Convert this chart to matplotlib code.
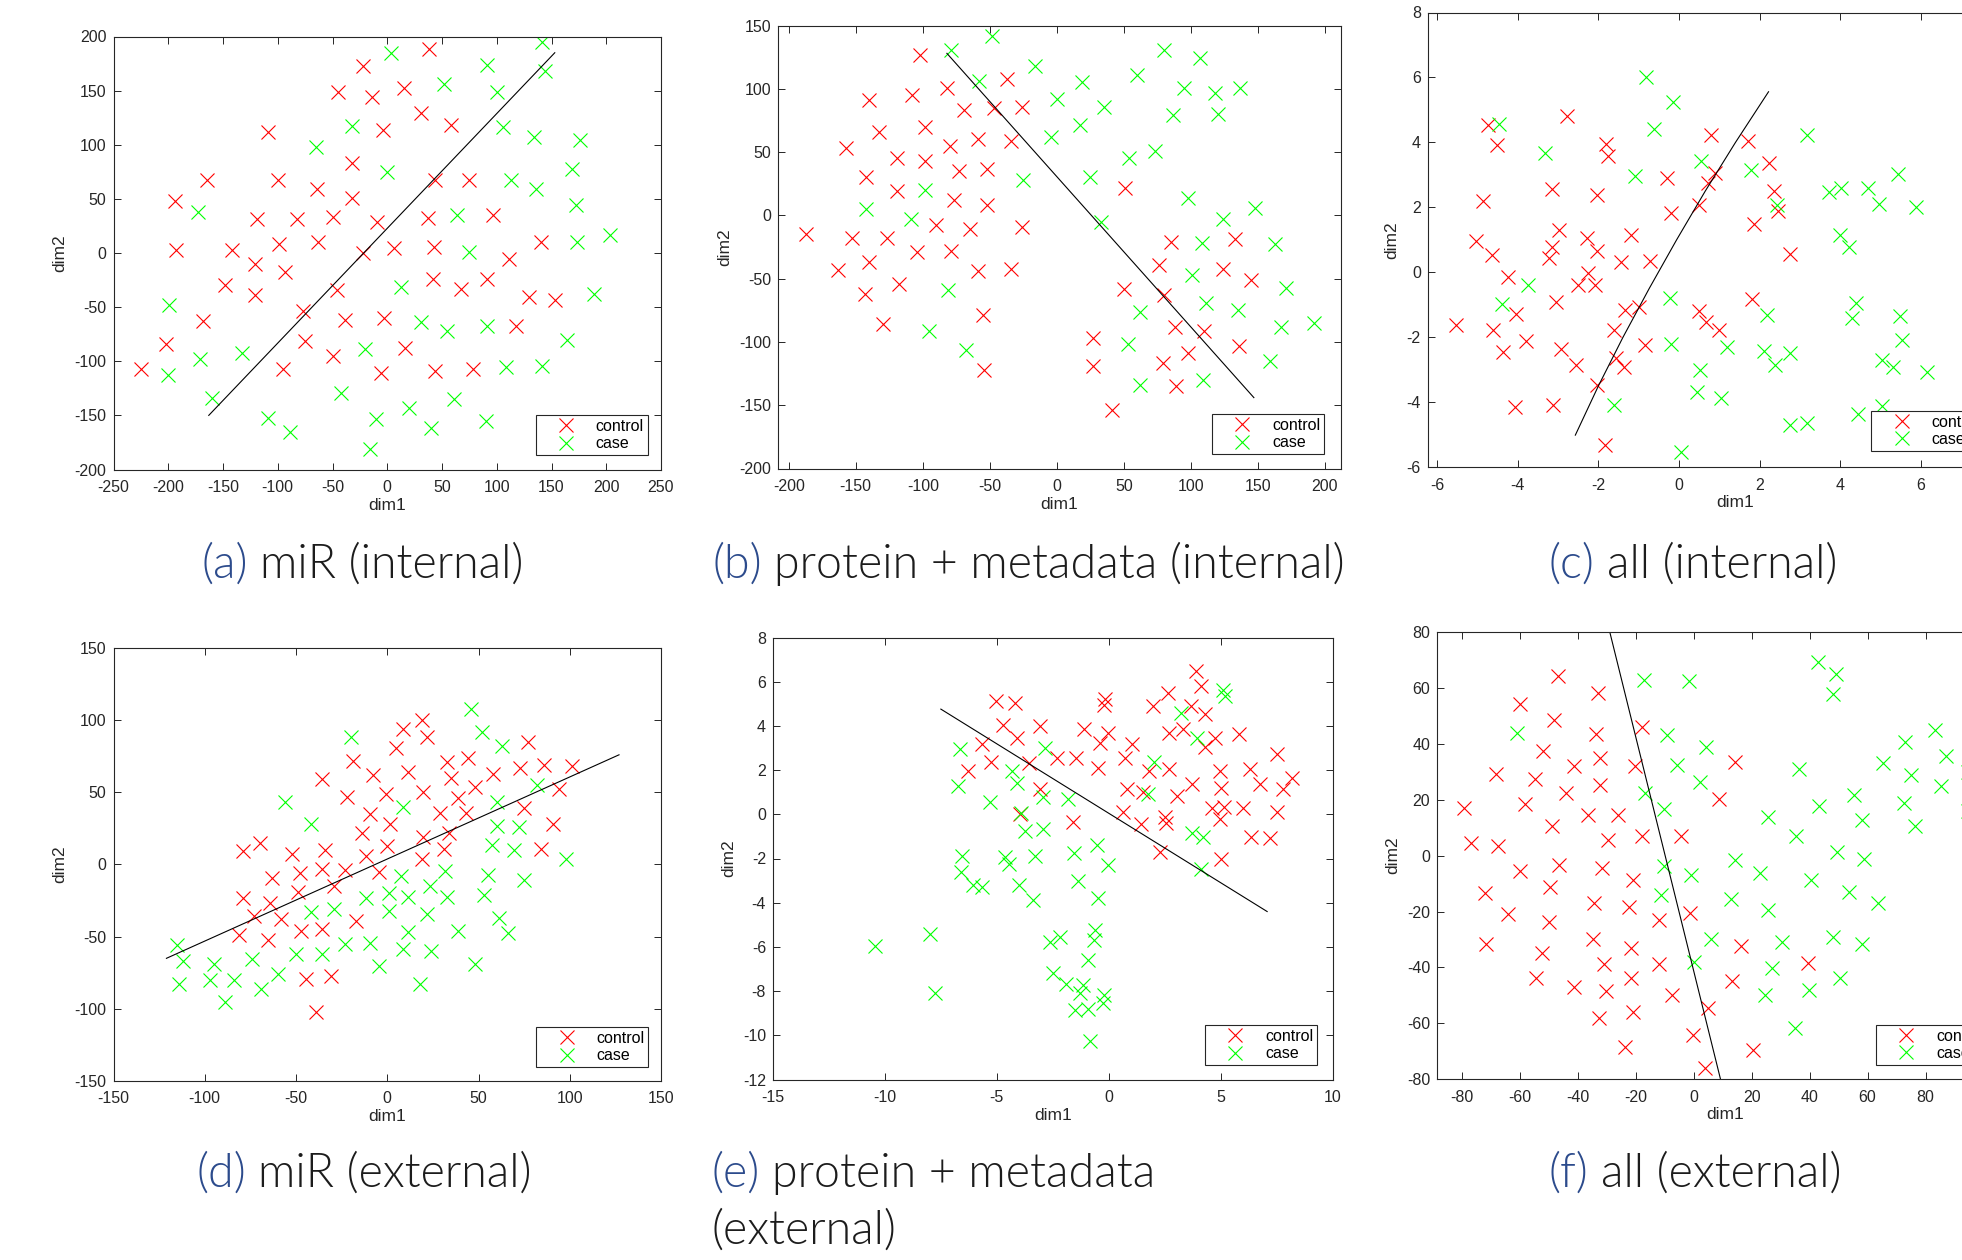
import matplotlib
matplotlib.use("Agg")
import matplotlib.pyplot as plt

# region data #
# (a) miR (internal)
a_ctrl_x = [-22, 38, -45, -14, 15, 31, 58, -4, -109, -32, -165, -100, -64, -32, -194, 44, 75, -119, -82, -50,
            -9, 37, 97, -193, -142, -99, -63, -22, 6, 43, 140, -121, -93, 111, -148, -121, -46, 42, 67, 91,
            129, 153, -168, -77, -39, -3, 118, -202, -75, -50, 16, -225, -95, -6, 44, 78]
a_ctrl_y = [173, 188, 149, 144, 152, 129, 118, 114, 112, 83, 67, 67, 59, 51, 48, 67, 67, 31, 31, 33,
            29, 32, 35, 3, 3, 8, 10, 0, 5, 6, 10, -10, -18, -6, -30, -39, -34, -24, -33, -24,
            -41, -43, -63, -54, -62, -60, -67, -84, -81, -95, -88, -107, -107, -111, -109, -107]
a_case_x = [141, 3, 91, 52, 100, 144, -32, 106, 134, 176, -65, 0, 113, 169, 136, -173, 172, 64, 203, 173,
            75, 13, 189, -199, 31, 55, 91, 164, -133, -20, -171, -200, 108, 141, -160, -42, 61, 20, -109, -10,
            90, -89, 40, -16]
a_case_y = [195, 185, 174, 156, 149, 168, 117, 116, 107, 104, 98, 75, 67, 78, 59, 38, 44, 35, 17, 10,
            1, -31, -38, -48, -64, -72, -67, -80, -92, -89, -98, -113, -105, -104, -134, -129, -135, -143, -152, -153,
            -155, -165, -162, -181]
a_line_x = [-163, 153]
a_line_y = [-150, 185]

# (b) protein + metadata (internal)
b_ctrl_x = [-102, -82, -37, -108, -140, -69, -47, -26, -98, -133, -59, -34, -80, -157, -119, -98, -73, -52, -142, -119,
            -77, -52, 51, -90, -65, -26, -187, -153, -127, -104, -79, -163, -140, -59, -34, -118, -143, -55, -130, -54,
            85, 133, 76, 124, 145, 50, 80, 88, 110, 27, 98, 136, 27, 79, 89, 41]
b_ctrl_y = [127, 101, 108, 95, 91, 83, 85, 86, 70, 66, 60, 59, 55, 53, 45, 43, 35, 37, 30, 19,
            12, 8, 22, -8, -11, -9, -15, -18, -18, -29, -28, -43, -37, -44, -42, -54, -62, -79, -86, -122,
            -21, -19, -39, -42, -51, -58, -63, -88, -91, -97, -109, -103, -119, -117, -135, -154]
b_case_x = [-48, -79, -16, -58, 19, 0, 35, 60, 80, 107, 95, 118, 137, 87, 120, 17, -4, 73, 54, -25,
            25, -98, 98, -142, 148, -109, 33, 124, 108, 163, 101, 171, -81, 62, 111, 135, 192, 167, -95, 53,
            -68, 159, 109, 62]
b_case_y = [142, 131, 118, 106, 105, 92, 86, 111, 131, 124, 101, 97, 101, 79, 80, 71, 62, 51, 45, 28,
            30, 20, 14, 5, 6, -3, -5, -3, -22, -23, -47, -57, -59, -76, -69, -75, -85, -88, -91, -102,
            -106, -115, -130, -134]
b_line_x = [-82, 147]
b_line_y = [128, -144]

# (c) all (internal)
c_ctrl_x = [-2.77, -4.74, -4.52, -1.81, -1.75, 0.80, 1.70, 2.22, -0.30, 0.89, 0.71, -3.15, -2.03, -4.87, 0.49, -0.20,
            2.36, 2.45, 1.87, 2.76, -5.03, -4.63, -2.97, -3.15, -3.22, -2.29, -2.03, -1.20, -1.43, -0.73, -2.25, -2.51,
            -2.09, -4.24, -3.04, -4.05, -5.53, -4.62, -3.79, -4.36, -2.92, -2.55, -1.34, -0.99, -1.62, -0.84, -1.57,
            -1.36, -2.04, -4.07, -3.13, -1.83, 0.49, 0.67, 1.00, 1.82]
c_ctrl_y = [4.81, 4.55, 3.93, 3.96, 3.57, 4.24, 4.03, 3.37, 2.92, 3.05, 2.75, 2.56, 2.38, 2.20, 2.08, 1.84,
            2.49, 1.89, 1.50, 0.58, 0.98, 0.53, 1.29, 0.77, 0.43, 1.06, 0.67, 1.14, 0.33, 0.36, -0.02, -0.38,
            -0.40, -0.14, -0.92, -1.29, -1.62, -1.78, -2.11, -2.45, -2.35, -2.86, -1.16, -1.07, -1.78, -2.24, -2.65,
            -2.91, -3.48, -4.15, -4.07, -5.32, -1.18, -1.52, -1.78, -0.83]
c_case_x = [-0.83, -0.16, -4.45, -0.62, -3.32, -1.08, 0.55, 1.78, 3.17, 2.42, 3.73, 4.01, 4.68, 5.43, 4.96, 5.87,
            3.99, 4.21, -3.74, -4.40, -0.22, 2.19, 4.40, 4.28, 5.47, 5.52, -0.19, 1.19, 2.10, 2.76, 2.39, 5.04,
            5.30, 6.15, 0.53, 0.44, 1.05, -1.60, 4.44, 2.76, 3.18, 0.04, 5.04]
c_case_y = [6.02, 5.25, 4.58, 4.40, 3.67, 2.98, 3.44, 3.15, 4.24, 2.08, 2.46, 2.61, 2.59, 3.03, 2.10, 2.01,
            1.15, 0.77, -0.38, -0.98, -0.80, -1.31, -0.95, -1.39, -1.33, -2.07, -2.21, -2.29, -2.42, -2.47, -2.86, -2.71,
            -2.91, -3.07, -3.02, -3.69, -3.86, -4.07, -4.36, -4.69, -4.64, -5.53, -4.10]
c_line_x = [-2.57, -2.0, -1.39, -0.74, -0.06, 0.65, 1.40, 2.22]
c_line_y = [-5.01, -3.5, -2.0, -0.5, 1.0, 2.5, 4.0, 5.56]

# (d) miR (external)
d_ctrl_x = [19, 8.5, 22, 5, 77, -19, 33, 44, 73, 86, 101.5, 11.6, 58, -36, -7.6, 35, 48, -0.7, 19.5, -22,
            39, 94, 75, -9.6, 29, 43, 1.3, 91, -14, 19.5, 34, -0.2, -70, -79, -52, -34, -11.6, 31, 84, 19,
            -36, -23, -48, -63, -4.7, -29, -49, -79, -64, -73, -58, -17, -81, -47, -35.5, -65.5, -44.5, -30.6, -39]
d_ctrl_y = [100, 94, 88, 81, 85, 72, 71, 74, 67, 69, 68, 64, 63, 59, 62, 60, 53.5, 49, 50.5, 47,
            46, 52, 39, 35, 36, 35.5, 28, 28, 22, 19, 22, 12.5, 15, 9.5, 7, 10, 6, 11, 11, 4,
            -3, -4, -6, -9.5, -5.5, -15, -19, -23, -27, -36, -38, -39, -49, -46, -44.5, -52, -79, -77, -102]
d_case_x = [46, 52, -20, 63, -56, 82, 60, 8.7, -42, 60, 72, 57.5, 69.5, 98, 7.8, 31.7, 55, 75, 23.5, 1.1,
            -11.4, 11.6, 33, 53, -29, -42, 1.1, 22, 61, 39, 11.6, 66, -23, -9.6, 8.7, 24, -50, -36, -74, -115,
            -112, -95, -4.7, 48, -60, -97, -84, -114, -69, 18, -89]
d_case_y = [108, 92, 88.5, 82, 43, 55, 43.6, 39.7, 28, 26.7, 25.8, 13.6, 9.7, 3.7, -7.8, -4.8, -7.1, -10.6, -15.2, -19.8,
            -23.5, -22.8, -22.6, -21.4, -30.7, -33, -32.5, -34, -37, -46, -47, -47.5, -55, -54.4, -58.6, -60.2, -61.8, -62, -65.3, -55.6,
            -67, -69, -70, -69, -76, -80, -80, -83, -86, -83, -95.5]
d_line_x = [-121, 127]
d_line_y = [-65, 76]

# (e) protein + metadata (external)
e_ctrl_x = [3.90, 4.12, 2.64, -5.03, -4.19, -0.17, -0.22, 1.96, 3.66, 4.32, -4.73, -3.05, -1.09, 3.31, 2.70, -0.02,
            4.77, 5.84, -4.08, -0.37, -5.65, 1.05, 4.29, -3.58, -5.27, -2.29, -1.46, 0.74, -0.48, 1.79, 2.68, -6.30,
            4.99, 6.32, 7.50, 3.70, 6.74, 8.19, -3.07, 0.83, 1.52, 5.04, 7.78, 3.03, 4.60, 5.14, 5.99, -3.95,
            0.63, 7.50, 2.51, 2.57, 4.97, -1.59, 1.44, 6.34, 7.22, 2.29, 5.04]
e_ctrl_y = [6.49, 5.80, 5.51, 5.14, 5.05, 5.21, 4.94, 4.91, 4.91, 4.56, 4.04, 3.99, 3.86, 3.86, 3.66, 3.66,
            3.43, 3.63, 3.43, 3.24, 3.18, 3.16, 3.06, 2.33, 2.38, 2.56, 2.56, 2.56, 2.08, 1.96, 2.05, 1.96,
            1.97, 2.03, 2.73, 1.37, 1.36, 1.63, 1.14, 1.14, 0.99, 1.17, 1.13, 0.84, 0.30, 0.35, 0.27, 0.02,
            0.09, 0.09, -0.11, -0.38, -0.23, -0.33, -0.45, -1.01, -1.05, -1.69, -2.03]
e_case_x = [5.10, 5.19, 3.22, 3.94, -6.63, -2.85, 2.01, -4.32, -4.08, -6.73, -2.92, -1.81, 1.77, -5.30, -3.94, -3.73,
            -2.94, 3.73, 4.21, -0.54, -6.56, -4.64, -4.45, -3.31, -1.55, -0.04, -6.58, -6.06, -5.67, -3.99, -1.37, -3.40,
            -0.50, 4.14, -8.00, -10.46, -2.61, -2.18, -0.61, -0.67, -0.91, -2.48, -1.92, -1.15, -1.27, -0.22, -0.26,
            -1.50, -0.91, -7.74, -0.85]
e_case_y = [5.62, 5.35, 4.59, 3.46, 2.95, 3.01, 2.38, 1.97, 1.40, 1.30, 0.80, 0.68, 0.90, 0.54, 0.08, -0.74,
            -0.68, -0.83, -1.04, -1.39, -1.88, -1.94, -2.24, -1.87, -1.73, -2.29, -2.59, -3.19, -3.31, -3.22, -3.01, -3.87,
            -3.80, -2.47, -5.41, -5.98, -5.78, -5.53, -5.23, -5.71, -6.58, -7.18, -7.68, -7.71, -8.09, -8.19, -8.54,
            -8.87, -8.81, -8.09, -10.27]
e_line_x = [-7.50, 7.08]
e_line_y = [4.76, -4.40]

# (f) all (external)
f_ctrl_x = [-46.9, -33.0, -59.8, -48.3, -33.6, -17.8, -52.0, -41.4, -32.4, -20.2, -68.1, -54.8, -32.4, -44.0, 14.1,
            8.8, -79.2, -58.3, -36.3, -26.0, -48.9, -29.5, -17.9, -4.3, -76.7, -67.4, -59.8, -46.3, -31.6, -20.8,
            -71.9, -49.4, -34.5, -22.2, -63.9, -49.8, -11.8, -1.4, -71.5, -34.8, -21.5, 16.5, -52.2, -30.8, -11.8,
            39.3, -54.4, -21.5, 13.4, -41.1, -30.2, -7.4, 5.1, -32.8, -21.0, -0.3, -23.5, 20.6, 3.8]
f_ctrl_y = [64.2, 58.2, 54.4, 48.4, 43.6, 46.0, 37.3, 32.0, 34.9, 32.0, 29.1, 27.5, 25.4, 22.5, 33.5,
            20.3, 17.0, 18.3, 14.6, 14.7, 10.5, 5.7, 7.2, 6.9, 4.4, 3.3, -5.4, -3.3, -4.5, -8.7,
            -13.5, -11.1, -17.0, -18.3, -20.9, -23.6, -23.1, -20.6, -31.7, -29.7, -32.9, -32.3, -35.0, -38.9, -38.6,
            -38.5, -43.6, -43.6, -44.8, -46.9, -48.4, -50.0, -54.4, -58.0, -55.8, -64.2, -68.5, -69.6, -75.9]
f_case_x = [43.0, 49.2, 47.9, -17.0, -1.7, -60.9, -9.1, 4.4, -5.7, 2.3, 36.2, 65.3, 72.8, 83.2, 87.1, 74.8, 85.4,
            55.3, 72.6, 43.2, 57.9, 76.2, 25.7, -16.7, -10.1, 35.2, 49.4, 58.9, 14.1, -10.1, -1.0, 23.0, 40.4, 53.6,
            63.7, -11.3, 12.8, 25.7, 6.0, 30.6, 47.9, 58.0, 0.1, 27.1, 50.5, 24.5, 39.8, 34.8, 94.5, 94.5]
f_case_y = [69.1, 64.8, 57.8, 63.0, 62.4, 44.0, 43.3, 38.9, 32.6, 26.3, 31.1, 33.2, 40.7, 44.8, 35.5, 28.7, 24.9,
            21.8, 18.8, 17.9, 12.8, 10.5, 13.8, 22.5, 16.7, 7.2, 1.4, -1.2, -1.6, -3.6, -6.9, -6.3, -8.6, -12.9,
            -17.0, -14.1, -15.5, -19.4, -29.9, -30.9, -29.1, -31.7, -38.0, -40.1, -43.6, -49.9, -48.1, -61.8, 30.0, 16.0]
f_line_x = [-28.8, 9.3]
f_line_y = [79.5, -80.1]
# endregion

W, H = 1962, 1260
AX_COL = '#262626'
TAG_COL = '#2c4b8c'
CAP_COL = '#1c1c1c'
plt.rcParams['axes.unicode_minus'] = False
plt.rcParams['font.family'] = ['Liberation Sans', 'DejaVu Sans']

fig = plt.figure(figsize=(W / 100, H / 100), dpi=100)


def px_axes(l, t, r, b):
    return fig.add_axes([l / W, 1 - b / H, (r - l) / W, (b - t) / H])


def panel(box, xlim, ylim, xticks, yticks, ctrl, case, line, leg_px):
    ax = px_axes(*box)
    ax.plot(ctrl[0], ctrl[1], 'x', color='#ff0000', ms=9.5, mew=0.8, label='control')
    ax.plot(case[0], case[1], 'x', color='#00ff00', ms=9.5, mew=0.8, label='case')
    ax.plot(line[0], line[1], '-', color='black', lw=0.8)
    ax.set_xlim(xlim)
    ax.set_ylim(ylim)
    ax.set_xticks(xticks)
    ax.set_yticks(yticks)
    ax.tick_params(direction='in', top=True, right=True, length=5, width=0.7,
                   color=AX_COL, labelcolor=AX_COL, labelsize=11.5)
    ax.tick_params(axis='x', pad=7.5)
    ax.tick_params(axis='y', pad=5)
    for s in ax.spines.values():
        s.set_color(AX_COL)
        s.set_linewidth(0.8)
    ax.set_xlabel('dim1', fontsize=12.5, color=AX_COL, labelpad=2)
    ax.set_ylabel('dim2', fontsize=12.5, color=AX_COL, labelpad=5)
    leg = ax.legend(loc='lower left', bbox_to_anchor=(leg_px[0] / W, 1 - leg_px[1] / H),
                    bbox_transform=fig.transFigure, borderaxespad=0, fancybox=False,
                    edgecolor=AX_COL, framealpha=1, fontsize=11.5, numpoints=1,
                    borderpad=0.25, handlelength=3.3, handletextpad=0.2, labelspacing=0.15)
    leg.get_frame().set_linewidth(0.8)
    return ax


panel((113.5, 36.5, 661, 469.5), (-250, 250), (-200, 200),
      range(-250, 251, 50), range(-200, 201, 50),
      (a_ctrl_x, a_ctrl_y), (a_case_x, a_case_y), (a_line_x, a_line_y), (535.6, 455.2))
panel((778, 25.5, 1341, 468.5), (-208, 212), (-200, 150),
      range(-200, 201, 50), range(-200, 151, 50),
      (b_ctrl_x, b_ctrl_y), (b_case_x, b_case_y), (b_line_x, b_line_y), (1212, 454.3))
# (c) and (f) run past the right edge of the page
panel((1427.7, 12.5, 2042, 467.3), (-6.23, 9.0), (-6, 8),
      range(-6, 9, 2), range(-6, 9, 2),
      (c_ctrl_x, c_ctrl_y), (c_case_x, c_case_y), (c_line_x, c_line_y), (1871.4, 451))
panel((113.5, 648, 661, 1081), (-150, 150), (-150, 150),
      range(-150, 151, 50), range(-150, 151, 50),
      (d_ctrl_x, d_ctrl_y), (d_case_x, d_case_y), (d_line_x, d_line_y), (536.2, 1067.1))
panel((773, 637.5, 1332.5, 1079.5), (-15, 10), (-12, 8),
      range(-15, 11, 5), range(-12, 9, 2),
      (e_ctrl_x, e_ctrl_y), (e_case_x, e_case_y), (e_line_x, e_line_y), (1205, 1065.4))
panel((1437.3, 632, 2012.6, 1079.3), (-88.4, 110), (-80, 80),
      range(-80, 101, 20), range(-80, 81, 20),
      (f_ctrl_x, f_ctrl_y), (f_case_x, f_case_y), (f_line_x, f_line_y), (1876, 1065))

# sub-captions: coloured tag + dark text
cap_font = dict(family=['Lato', 'DejaVu Sans'], weight=300, fontsize=33.5)
renderer = fig.canvas.get_renderer()


def caption(x, base, tag, rest, center=True):
    t1 = fig.text(0, 1 - base / H, tag, color=TAG_COL, va='baseline', **cap_font)
    t2 = fig.text(0, 1 - base / H, rest, color=CAP_COL, va='baseline', **cap_font)
    w1 = t1.get_window_extent(renderer).width
    w2 = t2.get_window_extent(renderer).width
    gap = 12
    x0 = x - (w1 + gap + w2) / 2 if center else x
    t1.set_x(x0 / W)
    t2.set_x((x0 + w1 + gap) / W)


caption(362, 578, '(a)', 'miR (internal)')
caption(1029, 578, '(b)', 'protein + metadata (internal)')
caption(1693, 578, '(c)', 'all (internal)')
caption(364, 1187, '(d)', 'miR (external)')
caption(712, 1187, '(e)', 'protein + metadata', center=False)
fig.text(712 / W, 1 - 1244 / H, '(external)', color=CAP_COL, va='baseline', **cap_font)
caption(1695, 1187, '(f)', 'all (external)')

fig.savefig('out.png', dpi=100)
